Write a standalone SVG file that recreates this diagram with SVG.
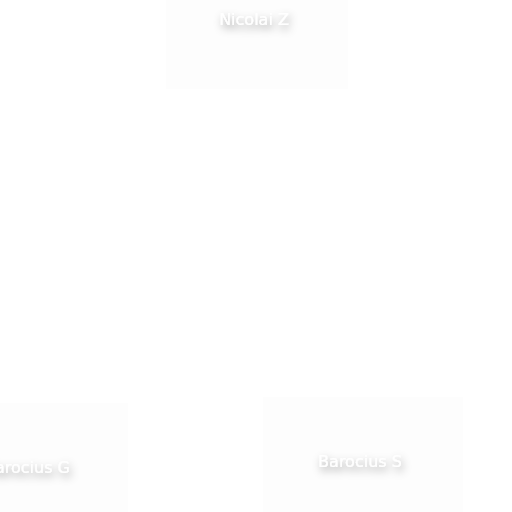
<svg xmlns="http://www.w3.org/2000/svg" width="512" height="512" viewBox="0 0 512 512">
<defs>
<style>
.box{fill:#fdfdfd;stroke:none}
.lbl{font-family:"DejaVu Sans","Verdana",sans-serif;font-size:16px;fill:#ffffff;text-anchor:middle;filter:url(#sh)}
</style>
<filter id="sh" x="-30%" y="-80%" width="160%" height="260%">
<feDropShadow dx="2" dy="4" stdDeviation="4" flood-color="#000" flood-opacity="0.4"/>
</filter>
</defs>
<rect width="512" height="512" fill="#ffffff"/>
<g id="connectors"></g>
<g id="node-nicolai">
<rect class="box" x="166" y="-20" width="182" height="109"/>
<text class="lbl" x="254" y="25">Nicolai Z</text>
</g>
<g id="node-barocius-g">
<rect class="box" x="-72" y="403" width="200" height="115"/>
<text class="lbl" x="27" y="473">Barocius G</text>
</g>
<g id="node-barocius-s">
<rect class="box" x="263" y="397" width="200" height="115"/>
<text class="lbl" x="360" y="467">Barocius S</text>
</g>
</svg>
